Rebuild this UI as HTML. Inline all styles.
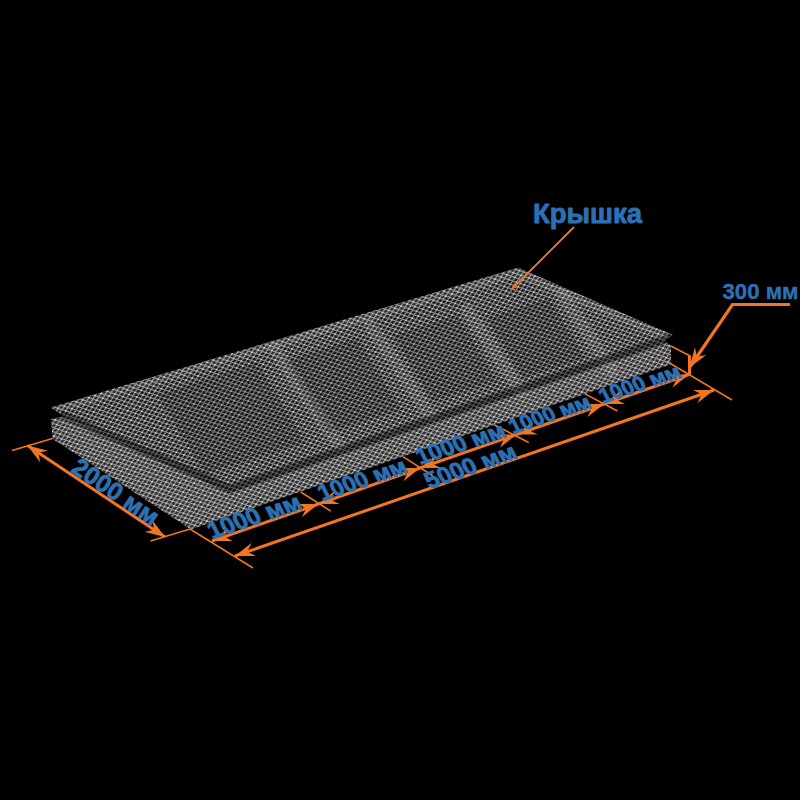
<!DOCTYPE html>
<html><head><meta charset="utf-8">
<style>
html,body{margin:0;padding:0;background:#000;width:800px;height:800px;overflow:hidden}
svg{display:block}
text{font-family:"Liberation Sans",sans-serif;font-weight:bold;fill:#2D70B4}
.r{stroke:#2D70B4;stroke-width:0.8;stroke-linejoin:round}
</style></head><body>
<svg width="800" height="800" viewBox="0 0 800 800">
<defs>
<pattern id="mesh" width="6.5" height="5" patternUnits="userSpaceOnUse" patternTransform="rotate(-19)">
<rect width="6.5" height="5" fill="#161616"/>
<path d="M0,0 V0.25 L3.25,2.25 V2.75 L0,4.75 V5 M6.5,0 V0.25 L3.25,2.25 M3.25,2.75 L6.5,4.75 V5" fill="none" stroke="#dcdcdc" stroke-width="0.85"/>
</pattern>
<marker id="ah" viewBox="0 0 20 14" refX="20" refY="7" markerWidth="20" markerHeight="14" markerUnits="userSpaceOnUse" orient="auto-start-reverse">
<path d="M20,7 L0,0 L7,7 L0,14 Z" fill="#F27522"/>
</marker>
<marker id="ahs" viewBox="0 0 20 14" refX="20" refY="7" markerWidth="8" markerHeight="6" markerUnits="userSpaceOnUse" orient="auto">
<path d="M20,7 L0,0 L7,7 L0,14 Z" fill="#F27522"/>
</marker>
</defs>
<rect width="800" height="800" fill="#000"/>
<!-- mesh mass -->
<polygon points="50.3,407.5 518,267.5 672.5,334.7 665,340.8 671,345.6 671,364.5 191,529.5 52.5,438.7 51,419 64,416" fill="url(#mesh)"/>
<g id="tones">
<clipPath id="mc"><polygon points="50.3,407.5 518,267.5 672.5,334.7 665,340.8 671,345.6 671,364.5 191,529.5 52.5,438.7 51,419 64,416"/></clipPath>
<g clip-path="url(#mc)">
<!-- lid back border lighter -->
<polyline points="50,409 518,270.5 672,337" fill="none" stroke="#fff" stroke-opacity="0.10" stroke-width="12"/>
<!-- dark cells -->
<g fill="#000">
<polygon points="157.0,394.0 257.0,362.0 305.0,442.0 205.0,474.0" opacity="0.16"/>
<polygon points="285.4,360.5 357.4,337.5 400.6,409.5 328.6,432.5" opacity="0.16"/>
<polygon points="393.2,335.2 457.2,314.8 496.8,380.8 432.8,401.2" opacity="0.15"/>
<polygon points="487.0,317.9 549.0,298.1 585.0,358.1 523.0,377.9" opacity="0.16"/>
</g>
<!-- light lattice lines -->
<g stroke="#fff" stroke-opacity="0.09" stroke-width="13" fill="none" stroke-linecap="round">
<line x1="273" y1="347" x2="339" y2="445"/>
<line x1="370" y1="325" x2="430" y2="415"/>
<line x1="467" y1="310" x2="521" y2="392"/>
<line x1="562" y1="295" x2="612" y2="370"/>
</g>
<!-- dark band -->
<polyline points="60,414 230,489 672.5,337" fill="none" stroke="#000" stroke-opacity="0.42" stroke-width="8"/>
<!-- faces lighter -->
<polygon points="51,419 64,417 230,493 672,341 671,345.6 671,364.5 191,529.5 52.5,438.7" fill="#fff" opacity="0.09"/>
</g>
</g>

<!-- orange lines -->
<g stroke="#F27522" fill="none">
<!-- Krysha leader -->
<line x1="574" y1="227" x2="511" y2="290" stroke-width="1.8" marker-end="url(#ahs)"/>
<!-- 300 leader -->
<polyline points="790,304.5 732.5,304.5 689.5,367.5" stroke-width="3.2" marker-end="url(#ah)"/>
<line x1="689.5" y1="356" x2="689.5" y2="375" stroke-width="3"/>
<!-- extension lines -->
<line x1="671" y1="346" x2="691" y2="356.5" stroke-width="1.5"/>
<line x1="669.5" y1="363" x2="732" y2="400" stroke-width="1.5"/>
<line x1="190" y1="529" x2="253" y2="568" stroke-width="1.5"/>
<line x1="12" y1="450.5" x2="52.5" y2="438.5" stroke-width="1.5"/>
<line x1="150.5" y1="541" x2="190" y2="529" stroke-width="1.5"/>
<line x1="300.7" y1="492" x2="330.7" y2="511" stroke-width="1.5"/>
<line x1="403" y1="456.6" x2="433" y2="476" stroke-width="1.5"/>
<line x1="494.6" y1="425" x2="528.7" y2="442.5" stroke-width="1.5"/>
<line x1="585" y1="393.8" x2="617.5" y2="411" stroke-width="1.5"/>
<!-- dimension lines -->
<line x1="27.5" y1="445.5" x2="165" y2="537" stroke-width="3" marker-start="url(#ah)" marker-end="url(#ah)"/>
<line x1="212" y1="541" x2="318.5" y2="504" stroke-width="3" marker-start="url(#ah)" marker-end="url(#ah)"/>
<line x1="318.5" y1="504" x2="420" y2="468" stroke-width="3" marker-start="url(#ah)" marker-end="url(#ah)"/>
<line x1="420" y1="468" x2="516.5" y2="434.5" stroke-width="3" marker-start="url(#ah)" marker-end="url(#ah)"/>
<line x1="516.5" y1="434.5" x2="604" y2="404" stroke-width="3" marker-start="url(#ah)" marker-end="url(#ah)"/>
<line x1="604" y1="404" x2="689" y2="374.5" stroke-width="3" marker-start="url(#ah)" marker-end="url(#ah)"/>
<line x1="235" y1="556" x2="714" y2="390" stroke-width="3" marker-start="url(#ah)" marker-end="url(#ah)"/>
</g>

<!-- texts -->
<text x="533" y="223" font-size="27.5" stroke="#2D70B4" stroke-width="0.9" stroke-linejoin="round">Крышка</text>
<text x="722.5" y="299" font-size="22.2" stroke="#2D70B4" stroke-width="0.4" stroke-linejoin="round">300 мм</text>
<text class="r" font-size="24.8" transform="translate(70.1,471.3) rotate(33.9)">2000 мм</text>
<text class="r" font-size="24.25" transform="translate(212.25,539.2) rotate(-18.6) skewX(8.5)">1000 мм</text>
<text class="r" font-size="23" transform="translate(322.4,501.1) rotate(-18.5) skewX(8.5)">1000 мм</text>
<text class="r" font-size="23.1" transform="translate(420.25,464.8) rotate(-18) skewX(8.5)">1000 мм</text>
<text class="r" font-size="21.2" transform="translate(512.9,433.9) rotate(-18.25) skewX(8.5)">1000 мм</text>
<text class="r" font-size="21.2" transform="translate(602.9,403.4) rotate(-18.25) skewX(8.5)">1000 мм</text>
<text class="r" font-size="23.8" transform="translate(429.4,489) rotate(-19.25) skewX(8.5)">5000 мм</text>
</svg>
</body></html>
